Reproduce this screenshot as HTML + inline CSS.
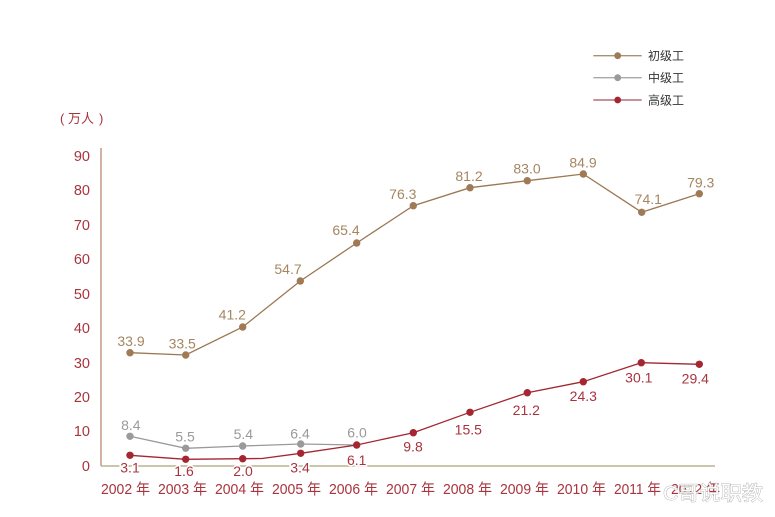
<!DOCTYPE html>
<html><head><meta charset="utf-8"><style>
html,body{margin:0;padding:0;background:#fff;}
svg{display:block;}
text{font-family:"Liberation Sans","Noto Sans CJK SC",sans-serif;}
</style></head><body>
<svg width="775" height="517" viewBox="0 0 775 517" xmlns="http://www.w3.org/2000/svg">
<rect width="775" height="517" fill="#fff"/>
<!-- unit -->
<g fill="#a8343e" font-size="13">
<text x="60" y="123">(</text>
<text x="68" y="123">万人</text>
<text x="99" y="123">)</text>
</g>
<!-- y labels -->
<g fill="#a8343e" font-size="14.5" text-anchor="end">
<text x="90" y="161">90</text>
<text x="90" y="195">80</text>
<text x="90" y="230">70</text>
<text x="90" y="264">60</text>
<text x="90" y="299">50</text>
<text x="90" y="333">40</text>
<text x="90" y="368">30</text>
<text x="90" y="402">20</text>
<text x="90" y="436">10</text>
<text x="90" y="471">0</text>
</g>
<!-- axes -->
<line x1="101" y1="148" x2="101" y2="466" stroke="#b98870" stroke-width="1.3"/>
<line x1="101" y1="466" x2="715" y2="466" stroke="#a9a47a" stroke-width="1.3"/>
<!-- x labels -->
<g fill="#a8343e" font-size="15">
<text x="101" y="494" textLength="49" lengthAdjust="spacingAndGlyphs">2002 年</text>
<text x="158" y="494" textLength="49" lengthAdjust="spacingAndGlyphs">2003 年</text>
<text x="215" y="494" textLength="49" lengthAdjust="spacingAndGlyphs">2004 年</text>
<text x="272" y="494" textLength="49" lengthAdjust="spacingAndGlyphs">2005 年</text>
<text x="329" y="494" textLength="49" lengthAdjust="spacingAndGlyphs">2006 年</text>
<text x="386" y="494" textLength="49" lengthAdjust="spacingAndGlyphs">2007 年</text>
<text x="443" y="494" textLength="49" lengthAdjust="spacingAndGlyphs">2008 年</text>
<text x="500" y="494" textLength="49" lengthAdjust="spacingAndGlyphs">2009 年</text>
<text x="557" y="494" textLength="49" lengthAdjust="spacingAndGlyphs">2010 年</text>
<text x="614" y="494" textLength="47" lengthAdjust="spacingAndGlyphs">2011 年</text>
<text x="671" y="494" textLength="49" lengthAdjust="spacingAndGlyphs">2012 年</text>
</g>
<!-- brown series -->
<polyline fill="none" stroke="#9c7752" stroke-width="1.3" points="130,352.7 185.7,355 242.7,327 300.3,281 356.7,243 413.3,205.7 470,187.7 527.3,180.7 583.3,174 641.7,212.3 699.3,193.7"/>
<g fill="#a07a55">
<circle cx="130" cy="352.7" r="3.7"/><circle cx="185.7" cy="355" r="3.7"/><circle cx="242.7" cy="327" r="3.7"/><circle cx="300.3" cy="281" r="3.7"/><circle cx="356.7" cy="243" r="3.7"/><circle cx="413.3" cy="205.7" r="3.7"/><circle cx="470" cy="187.7" r="3.7"/><circle cx="527.3" cy="180.7" r="3.7"/><circle cx="583.3" cy="174" r="3.7"/><circle cx="641.7" cy="212.3" r="3.7"/><circle cx="699.3" cy="193.7" r="3.7"/>
</g>
<!-- gray series -->
<polyline fill="none" stroke="#9a9a9a" stroke-width="1.3" points="130,436.3 185.7,448.3 242.7,446 300.7,444 356.7,445"/>
<g fill="#9a9a9a">
<circle cx="130" cy="436.3" r="3.7"/><circle cx="185.7" cy="448.3" r="3.7"/><circle cx="242.7" cy="446" r="3.7"/><circle cx="300.7" cy="444" r="3.7"/>
</g>
<!-- red series -->
<polyline fill="none" stroke="#a32631" stroke-width="1.3" points="130,455.3 185.7,459.3 242.7,458.7 262,458.5 300.7,453.3 356.7,445 413.3,432.7 470,412.3 527.3,392.7 583.3,381.7 641.3,362.7 699.3,364.3"/>
<g fill="#a32631">
<circle cx="130" cy="455.3" r="3.7"/><circle cx="185.7" cy="459.3" r="3.7"/><circle cx="242.7" cy="458.7" r="3.7"/><circle cx="300.7" cy="453.3" r="3.7"/><circle cx="356.7" cy="445" r="3.7"/><circle cx="413.3" cy="432.7" r="3.7"/><circle cx="470" cy="412.3" r="3.7"/><circle cx="527.3" cy="392.7" r="3.7"/><circle cx="583.3" cy="381.7" r="3.7"/><circle cx="641.3" cy="362.7" r="3.7"/><circle cx="699.3" cy="364.3" r="3.7"/>
</g>
<!-- brown labels -->
<g fill="#a58660" font-size="14" text-anchor="middle">
<text x="131" y="346">33.9</text>
<text x="182.2" y="348.3">33.5</text>
<text x="232.3" y="319.3">41.2</text>
<text x="288" y="274">54.7</text>
<text x="346" y="235">65.4</text>
<text x="402.8" y="199">76.3</text>
<text x="469" y="181">81.2</text>
<text x="527" y="173.3">83.0</text>
<text x="583" y="167.3">84.9</text>
<text x="648.3" y="204">74.1</text>
<text x="700.7" y="187.3">79.3</text>
</g>
<!-- gray labels -->
<g fill="#9a9a9a" font-size="14" text-anchor="middle">
<text x="130.8" y="430">8.4</text>
<text x="185" y="441.7">5.5</text>
<text x="243.3" y="439">5.4</text>
<text x="300" y="438.3">6.4</text>
<text x="357" y="437.7">6.0</text>
</g>
<!-- red labels -->
<g fill="#a8343e" font-size="14" text-anchor="middle" stroke="#fff" stroke-width="3" paint-order="stroke">
<text x="130" y="472.7">3.1</text>
<text x="184" y="476">1.6</text>
<text x="243" y="476">2.0</text>
<text x="300" y="472.7">3.4</text>
<text x="356.7" y="465">6.1</text>
<text x="413" y="451.7">9.8</text>
<text x="468.3" y="434.3">15.5</text>
<text x="526.3" y="415">21.2</text>
<text x="583.3" y="401">24.3</text>
<text x="638.8" y="382.3">30.1</text>
<text x="695.3" y="383.3">29.4</text>
</g>
<!-- legend -->
<line x1="593.3" y1="55.7" x2="641.7" y2="55.7" stroke="#a8916f" stroke-width="1.3"/>
<circle cx="617.7" cy="55.7" r="3.4" fill="#a07a55"/>
<line x1="593.3" y1="77.7" x2="641.7" y2="77.7" stroke="#a9a9a9" stroke-width="1.3"/>
<circle cx="617.7" cy="77.7" r="3.4" fill="#9a9a9a"/>
<line x1="593.3" y1="100" x2="641.7" y2="100" stroke="#a8525a" stroke-width="1.3"/>
<circle cx="617.7" cy="100" r="3.4" fill="#a32631"/>
<g fill="#333" font-size="12">
<text x="648" y="60">初级工</text>
<text x="648" y="82">中级工</text>
<text x="648" y="104.3">高级工</text>
</g>
<!-- watermark -->
<text x="663" y="500" font-size="20" fill="#fff" stroke="#a0a0a0" stroke-width="0.7" paint-order="stroke" textLength="100" lengthAdjust="spacingAndGlyphs">C哥说职教</text>
</svg>
</body></html>
